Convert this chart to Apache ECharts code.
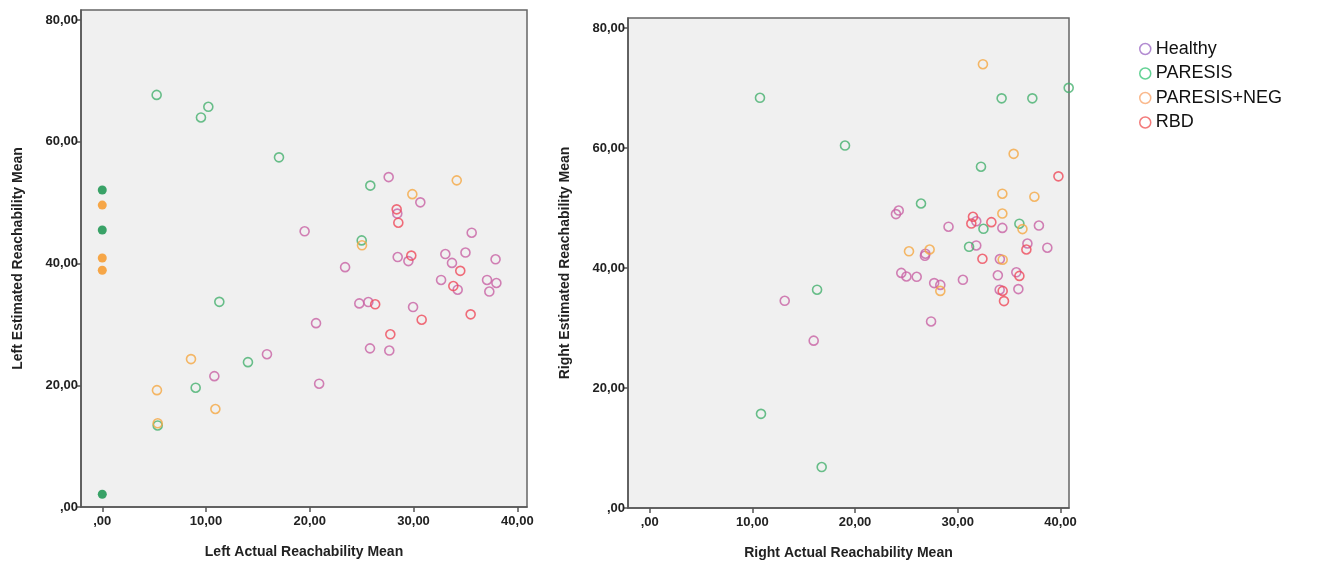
<!DOCTYPE html>
<html>
<head>
<meta charset="utf-8">
<script src="https://cdn.jsdelivr.net/npm/echarts@6/dist/echarts.min.js"></script>
<style>
  html, body { margin: 0; padding: 0; background: #fff; }
  #chart { width: 1322px; height: 565px; }
</style>
</head>
<body>
<div id="chart"></div>
<script>
// groups shown in legend
const groups = ["Healthy", "PARESIS", "PARESIS+NEG", "RBD"];
const tickValues = [0, 10, 20, 30, 40];
const yTickValues = [0, 20, 40, 60, 80];

// left panel: [actual, estimated]
const leftHealthy = [[19.5,45.3],[27.6,54.2],[30.65,50.05],[28.43,48.2],[35.6,45.06],[23.4,39.4],[28.47,41.06],[29.5,40.4],[33.06,41.56],[33.7,40.1],[35.0,41.8],[37.9,40.7],[32.65,37.3],[37.08,37.3],[34.25,35.7],[37.98,36.8],[37.3,35.4],[24.77,33.45],[25.64,33.67],[29.95,32.85],[20.6,30.2],[25.8,26.06],[27.66,25.7],[20.9,20.25],[15.87,25.1],[10.8,21.5]];
const leftParesis = [[5.24,67.7],[10.22,65.75],[9.51,64.0],[17.03,57.44],[25.83,52.8],[25.0,43.8],[11.28,33.7],[14.04,23.8],[9.0,19.6],[5.34,13.4]];
const leftParesisNeg = [[34.16,53.66],[29.88,51.4],[25.03,43.0],[8.55,24.3],[5.27,19.2],[10.9,16.1],[5.34,13.75]];
const leftRbd = [[28.37,48.9],[28.53,46.7],[29.78,41.3],[34.5,38.8],[33.83,36.3],[26.3,33.3],[30.78,30.77],[35.5,31.65],[27.76,28.37]];
const leftZeroGreen = [[0,52.07],[0,45.5],[0,2.1]];
const leftZeroOrange = [[0,49.6],[0,40.9],[0,38.9]];

// right panel
const rightHealthy = [[24.25,49.6],[23.98,49.0],[31.8,47.8],[37.9,47.1],[29.1,46.9],[34.34,46.7],[31.8,43.77],[36.78,44.1],[38.72,43.4],[26.85,42.4],[26.8,42.05],[34.1,41.5],[24.5,39.2],[25.0,38.6],[26.0,38.55],[33.9,38.8],[35.7,39.3],[27.7,37.5],[28.3,37.2],[30.5,38.05],[34.08,36.4],[35.9,36.5],[27.4,31.1],[13.15,34.55],[15.97,27.9]];
const rightParesis = [[10.74,68.4],[34.27,68.3],[37.26,68.3],[19.02,60.43],[32.26,56.9],[26.42,50.77],[36.0,47.4],[32.5,46.55],[31.1,43.55],[16.3,36.4],[10.84,15.7],[16.75,6.83],[40.8,70.05]];
const rightParesisNeg = [[32.45,74.0],[35.44,59.05],[34.34,52.4],[37.46,51.9],[34.34,49.1],[36.3,46.5],[25.25,42.8],[27.26,43.1],[34.37,41.4],[28.3,36.2]];
const rightRbd = [[39.8,55.3],[31.48,48.55],[31.32,47.43],[33.27,47.66],[36.68,43.1],[32.4,41.55],[36.0,38.7],[34.37,36.2],[34.5,34.5]];

const plotColors = { "Healthy": "#c862a4", "PARESIS": "#45b06e", "PARESIS+NEG": "#f5a742", "RBD": "#ef4a5a" };
const legendColors = { "Healthy": "#9f6ec6", "PARESIS": "#3dc77a", "PARESIS+NEG": "#f9a870", "RBD": "#f05a5a" };

const FONT = 'Arial, "Liberation Sans", sans-serif';

function fmt(v) {
  if (v === 0) return ",00";
  return v.toFixed(2).replace(".", ",");
}

function xAxisFor(idx, name, min, max) {
  return {
    type: "value", gridIndex: idx, min: min, max: max,
    name: name, nameLocation: "middle", nameGap: 38,
    nameTextStyle: { fontFamily: FONT, fontWeight: "bold", fontSize: 14, color: "#222" },
    axisLine: { show: true, onZero: false, lineStyle: { color: "#555", width: 1.5 } },
    axisTick: { show: true, length: 5, customValues: tickValues, lineStyle: { color: "#555", width: 1.5 } },
    axisLabel: { customValues: tickValues, formatter: fmt, margin: 8,
      fontFamily: FONT, fontWeight: "bold", fontSize: 13, color: "#222" },
    splitLine: { show: false }
  };
}

function yAxisFor(idx, name, max) {
  return {
    type: "value", gridIndex: idx, min: 0, max: max,
    name: name, nameLocation: "middle", nameGap: 56,
    nameTextStyle: { fontFamily: FONT, fontWeight: "bold", fontSize: 14, color: "#222" },
    axisLine: { show: true, onZero: false, lineStyle: { color: "#555", width: 1.5 } },
    axisTick: { show: true, length: 5, customValues: yTickValues, lineStyle: { color: "#555", width: 1.5 } },
    axisLabel: { customValues: yTickValues, formatter: fmt, margin: 3,
      fontFamily: FONT, fontWeight: "bold", fontSize: 13, color: "#222" },
    splitLine: { show: false }
  };
}

function openSeries(name, data, idx) {
  return {
    name: name, type: "scatter", xAxisIndex: idx, yAxisIndex: idx,
    data: data, symbol: "circle", symbolSize: 9,
    itemStyle: { color: "rgba(0,0,0,0)", borderColor: plotColors[name], borderWidth: 1.6 },
    emphasis: { disabled: true }
  };
}

function filledSeries(name, data, color) {
  return {
    name: name, type: "scatter", xAxisIndex: 0, yAxisIndex: 0,
    data: data, symbol: "circle", symbolSize: 9,
    itemStyle: { color: color }, emphasis: { disabled: true }
  };
}

const chart = echarts.init(document.getElementById("chart"));
chart.setOption({
  animation: false,
  backgroundColor: "#fff",
  legend: {
    orient: "vertical", left: 1134, top: 35, itemGap: 6.5,
    itemWidth: 11, itemHeight: 11,
    textStyle: { fontFamily: FONT, fontSize: 18, color: "#111" },
    data: groups.map(g => ({
      name: g, icon: "circle",
      itemStyle: { color: "#fff", borderColor: legendColors[g], borderWidth: 1.5 }
    }))
  },
  grid: [
    { left: 81, top: 10, width: 446, height: 497, show: true, backgroundColor: "#f0f0f0", borderColor: "#666", borderWidth: 1.5 },
    { left: 628, top: 18, width: 441, height: 490, show: true, backgroundColor: "#f0f0f0", borderColor: "#666", borderWidth: 1.5 }
  ],
  xAxis: [
    xAxisFor(0, "Left Actual Reachability Mean", -2.05, 40.93),
    xAxisFor(1, "Right Actual Reachability Mean", -2.11, 40.83)
  ],
  yAxis: [
    yAxisFor(0, "Left Estimated Reachability Mean", 81.65),
    yAxisFor(1, "Right Estimated Reachability Mean", 81.7)
  ],
  series: [
    filledSeries("PARESIS zero", leftZeroGreen, "#0b8f45"),
    filledSeries("PARESIS+NEG zero", leftZeroOrange, "#f7941d"),
    openSeries("Healthy", leftHealthy, 0),
    openSeries("PARESIS", leftParesis, 0),
    openSeries("PARESIS+NEG", leftParesisNeg, 0),
    openSeries("RBD", leftRbd, 0),
    openSeries("Healthy", rightHealthy, 1),
    openSeries("PARESIS", rightParesis, 1),
    openSeries("PARESIS+NEG", rightParesisNeg, 1),
    openSeries("RBD", rightRbd, 1)
  ]
});
</script>
</body>
</html>
